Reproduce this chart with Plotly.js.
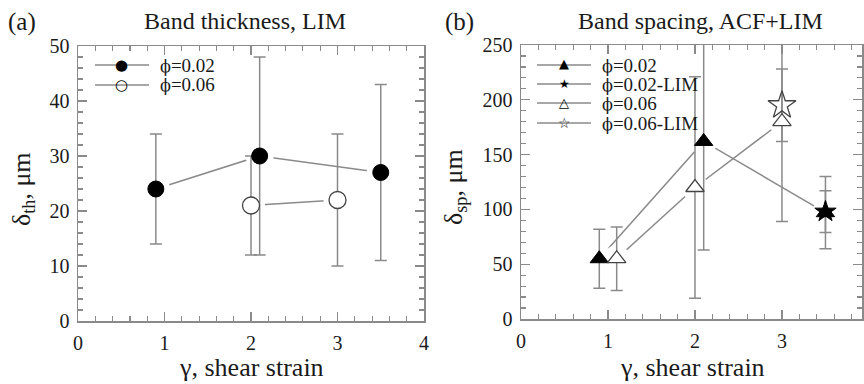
<!DOCTYPE html>
<html>
<head>
<meta charset="utf-8">
<script src="https://cdn.plot.ly/plotly-3.0.1.min.js"></script>
<style>
  html, body { margin: 0; padding: 0; background: #fff; }
  #chart { width: 864px; height: 384px; }
</style>
</head>
<body>
<div id="chart"></div>
<script>
// ---- (a) Band thickness, LIM ----
const thkGamma002 = [0.9, 2.1, 3.5];
const thk002      = [24, 30, 27];
const thkErr002   = [10, 18, 16];

const thkGamma006 = [2.0, 3.0];
const thk006      = [21, 22];
const thkErr006   = [9, 12];

// ---- (b) Band spacing, ACF+LIM ----
const spGamma002    = [0.9, 2.1, 3.5];
const sp002         = [55, 162, 97];
const spErr002      = [27, 99, 33];

const spGamma002Lim = [3.5];
const sp002Lim      = [98];
const spErr002Lim   = [19];

const spGamma006    = [1.1, 2.0, 3.0];
const sp006         = [55, 120, 180];
const spErr006      = [29, 101, 91];

const spGamma006Lim = [3.0];
const sp006Lim      = [195];
const spErr006Lim   = [33];

const legendNamesA = ['ϕ=0.02', 'ϕ=0.06'];
const legendNamesB = ['ϕ=0.02', 'ϕ=0.02-LIM', 'ϕ=0.06', 'ϕ=0.06-LIM'];

const GREY = '#8a8a8a';
const INK = '#1a1a1a';
const EDGE = '#444';
const FONT = 'Liberation Serif, Times New Roman, serif';
const SYMFONT = 'DejaVu Sans, sans-serif';

// Each series is layered: connecting line, white halo (leaves a small gap
// where the line meets a symbol), error bars, then the symbols on top.
function series(x, y, err, opts) {
  const ax = opts.axis === 2 ? {xaxis: 'x2', yaxis: 'y2'} : {xaxis: 'x', yaxis: 'y'};
  const under = [];
  if (opts.line) {
    under.push(Object.assign({
      x: x, y: y, type: 'scatter', mode: 'lines', showlegend: false, hoverinfo: 'skip',
      line: {color: GREY, width: 1.5}
    }, ax));
    under.push(Object.assign({
      x: x, y: y, type: 'scatter', mode: 'markers', showlegend: false, hoverinfo: 'skip',
      marker: {symbol: 'circle', size: opts.halo, color: '#fff', line: {width: 0}}
    }, ax));
  }
  return {
    under: under,
    bars: Object.assign({
      x: x, y: y, type: 'scatter', mode: 'markers', showlegend: false, hoverinfo: 'skip',
      marker: {size: 1, opacity: 0},
      error_y: {type: 'data', array: err, visible: true, color: GREY, thickness: 1.5, width: 6}
    }, ax),
    marks: Object.assign({
      x: x, y: y, type: 'scatter', mode: 'markers', showlegend: false, name: opts.name,
      marker: {symbol: opts.symbol, size: opts.size, color: opts.fill,
               line: {color: opts.edge, width: opts.edgeWidth}}
    }, ax)
  };
}

const groups = [
  series(thkGamma002, thk002, thkErr002, {axis: 1, line: true, halo: 28, name: legendNamesA[0],
    symbol: 'circle', size: 16, fill: '#000', edge: '#000', edgeWidth: 1}),
  series(thkGamma006, thk006, thkErr006, {axis: 1, line: true, halo: 28, name: legendNamesA[1],
    symbol: 'circle', size: 17, fill: '#fff', edge: EDGE, edgeWidth: 1.3}),
  series(spGamma002, sp002, spErr002, {axis: 2, line: true, halo: 27, name: legendNamesB[0],
    symbol: 'triangle-up', size: 16, fill: '#000', edge: '#000', edgeWidth: 1}),
  series(spGamma002Lim, sp002Lim, spErr002Lim, {axis: 2, line: false, name: legendNamesB[1],
    symbol: 'star', size: 16, fill: '#000', edge: '#000', edgeWidth: 1}),
  series(spGamma006, sp006, spErr006, {axis: 2, line: true, halo: 27, name: legendNamesB[2],
    symbol: 'triangle-up', size: 16, fill: '#fff', edge: EDGE, edgeWidth: 1.3}),
  series(spGamma006Lim, sp006Lim, spErr006Lim, {axis: 2, line: false, name: legendNamesB[3],
    symbol: 'star', size: 21, fill: 'rgba(255,255,255,0)', edge: EDGE, edgeWidth: 1.3})
];

const data = [];
groups.forEach(g => g.under.forEach(t => data.push(t)));
groups.forEach(g => data.push(g.bars));
groups.forEach(g => data.push(g.marks));

function axisStyle(extra) {
  return Object.assign({
    showgrid: false, zeroline: false, showline: true, mirror: 'allticks',
    linecolor: GREY, linewidth: 1.5, ticks: 'inside', ticklen: 9, tickwidth: 1.3,
    tickcolor: GREY, tickfont: {family: FONT, size: 20, color: INK},
    ticklabelstandoff: 3, fixedrange: true
  }, extra);
}
function minor(dt) {
  return {dtick: dt, ticks: 'inside', ticklen: 5, tickcolor: GREY, tickwidth: 1.2};
}

const titleFont = {family: FONT, size: 24, color: INK};
const axisTitleFont = {family: FONT, size: 26, color: INK};
const keyFont = {family: FONT, size: 19, color: INK};

// pixel position -> paper fraction
const px = v => v / 864;
const py = v => 1 - v / 384;

function text(t, x, y, font, extra) {
  return Object.assign({text: t, x: px(x), y: py(y), xref: 'paper', yref: 'paper',
    xanchor: 'center', yanchor: 'middle', showarrow: false, font: font}, extra || {});
}

// The stroked phi comes from DejaVu Serif; the rest of the label stays in the serif face.
function keyLabel(name) {
  return '<span style="font-family:\'DejaVu Serif\';font-size:16px">' + name.charAt(0) +
         '</span>' + name.slice(1);
}

// Legend keys: short grey line, symbol glyph and label on each row.
const shapes = [];
const annotations = [];
function legend(names, glyphs, x0, x1, xText, rows) {
  names.forEach((name, i) => {
    const y = rows[i];
    shapes.push({type: 'line', xref: 'paper', yref: 'paper',
      x0: px(x0), x1: px(x1), y0: py(y), y1: py(y), line: {color: GREY, width: 1.5}});
    annotations.push(text(glyphs[i].ch, (x0 + x1) / 2, y + glyphs[i].dy,
      {family: SYMFONT, size: glyphs[i].size, color: '#000'}));
    annotations.push(text(keyLabel(name), xText, y, keyFont, {xanchor: 'left'}));
  });
}
legend(legendNamesA,
  [{ch: '●', size: 15, dy: 0}, {ch: '○', size: 15, dy: 0}],
  95, 149, 158, [65, 85]);
legend(legendNamesB,
  [{ch: '▲', size: 13, dy: -1}, {ch: '★', size: 12, dy: 0},
   {ch: '△', size: 13, dy: -1}, {ch: '☆', size: 14, dy: 0}],
  537, 591, 600, [65, 84, 103, 123]);

annotations.push(
  text('(a)', 22, 22, {family: FONT, size: 25, color: INK}),
  text('Band thickness, LIM', 245, 21, titleFont),
  text('(b)', 459, 22, {family: FONT, size: 25, color: INK}),
  text('Band spacing, ACF+LIM', 700, 21, titleFont),
  text('γ, shear strain', 251, 367, axisTitleFont),
  text('γ, shear strain', 692, 367, axisTitleFont),
  text('δ<sub>th</sub>, μm', 23, 189, axisTitleFont, {textangle: -90}),
  text('δ<sub>sp</sub>, μm', 455, 187, axisTitleFont, {textangle: -90})
);

const layout = {
  width: 864, height: 384,
  margin: {l: 0, r: 0, t: 0, b: 0},
  paper_bgcolor: '#fff', plot_bgcolor: '#fff',
  showlegend: false,
  xaxis: axisStyle({domain: [px(78), px(424)], range: [0, 4], dtick: 1, minor: minor(0.2), anchor: 'y'}),
  yaxis: axisStyle({domain: [63 / 384, 338 / 384], range: [0, 50], dtick: 10, minor: minor(2), anchor: 'x'}),
  xaxis2: axisStyle({domain: [px(521), px(862)], range: [0, 3.92], dtick: 1, minor: minor(0.2), anchor: 'y2'}),
  yaxis2: axisStyle({domain: [65 / 384, 339 / 384], range: [0, 250], dtick: 50, minor: minor(10), anchor: 'x2'}),
  shapes: shapes,
  annotations: annotations
};

Plotly.newPlot('chart', data, layout, {staticPlot: true, displayModeBar: false});
</script>
</body>
</html>
